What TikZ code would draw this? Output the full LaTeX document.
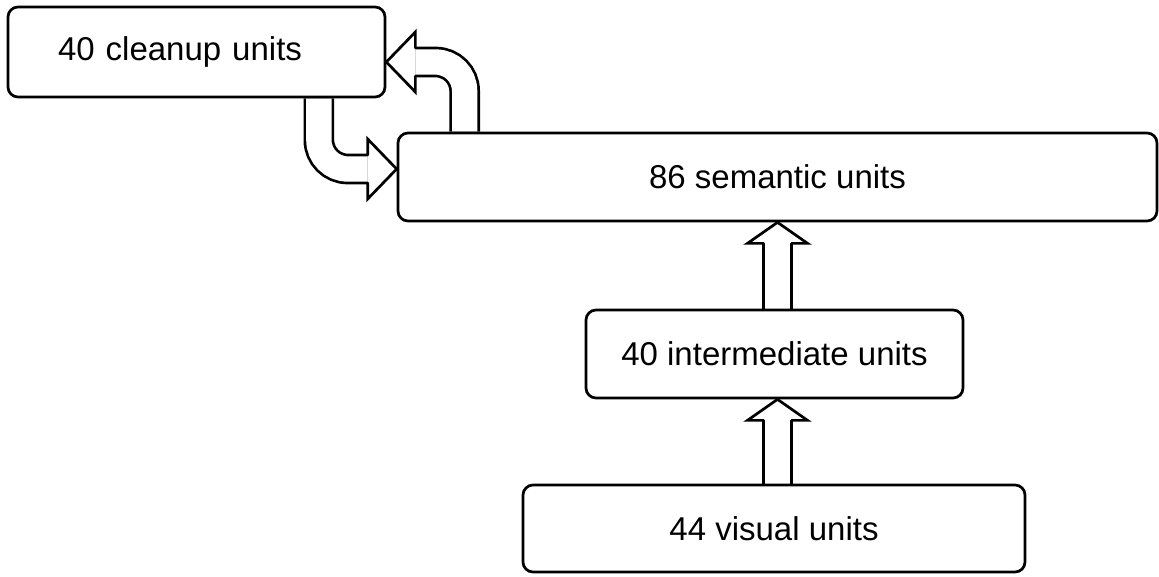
\documentclass[tikz,border=0pt]{standalone}
\usepackage{fontspec}
\setmainfont{Liberation Sans}
\usetikzlibrary{calc}
\usetikzlibrary{backgrounds}

\tikzset{
  unitbox/.style={draw, line width=2.7pt, rounded corners=10pt, inner sep=0pt,
    font=\fontsize{33}{40}\selectfont},
  shaft/.style={line width=2.7pt, double=white, double distance=25.3pt},
  arrowhead/.style={draw, fill=white, line width=2.7pt, line cap=round}
}

\begin{document}
\begin{tikzpicture}[x=1pt, y=-1pt]

\useasboundingbox (0,0) rectangle (1159,576);

\node[unitbox, minimum width=377pt, minimum height=90pt, text width=277pt,
  inner xsep=50pt, align=left] (cleanup) at (196.5,52) {40 cleanup units};
\node[unitbox, minimum width=759pt, minimum height=88pt] (semantic) at (777.5,177) {86 semantic units};
\node[unitbox, minimum width=377pt, minimum height=88pt] (intermediate) at (774.5,354) {40 intermediate units};
\node[unitbox, minimum width=502pt, minimum height=87pt] (visual) at (774,528.5) {44 visual units};

\begin{scope}[on background layer]

\foreach \from/\to in {visual/intermediate, intermediate/semantic}{

\coordinate (foot) at (\from.north -| semantic.south);
\coordinate (tip) at (\to.south -| semantic.south);
\draw[shaft] (foot) -- ($(tip)+(0,21)$);
\draw[arrowhead] ($(tip)+(-14,21)$) -- ($(tip)+(-30,21)$) -- (tip)
  -- ($(tip)+(30,21)$) -- ($(tip)+(14,21)$);

}

% cleanup -> semantic
\coordinate (dfoot) at ($(cleanup.south east)+(-67.5,0)$);
\coordinate (dtip) at ($(semantic.west)+(0,-8)$);
\draw[shaft, rounded corners=29pt] (dfoot) -- (dfoot |- dtip) -- ($(dtip)+(-29,0)$);
\draw[arrowhead] ($(dtip)+(-29,-14)$) -- ($(dtip)+(-29,-30)$) -- (dtip)
  -- ($(dtip)+(-29,30)$) -- ($(dtip)+(-29,14)$);

% semantic -> cleanup
\coordinate (ufoot) at ($(semantic.north west)+(68,0)$);
\coordinate (utip) at ($(cleanup.east)+(0,10)$);
\draw[shaft, rounded corners=29pt] (ufoot) -- (ufoot |- utip) -- ($(utip)+(29,0)$);
\draw[arrowhead] ($(utip)+(29,-14)$) -- ($(utip)+(29,-30)$) -- (utip)
  -- ($(utip)+(29,30)$) -- ($(utip)+(29,14)$);

\end{scope}

\end{tikzpicture}
\end{document}
